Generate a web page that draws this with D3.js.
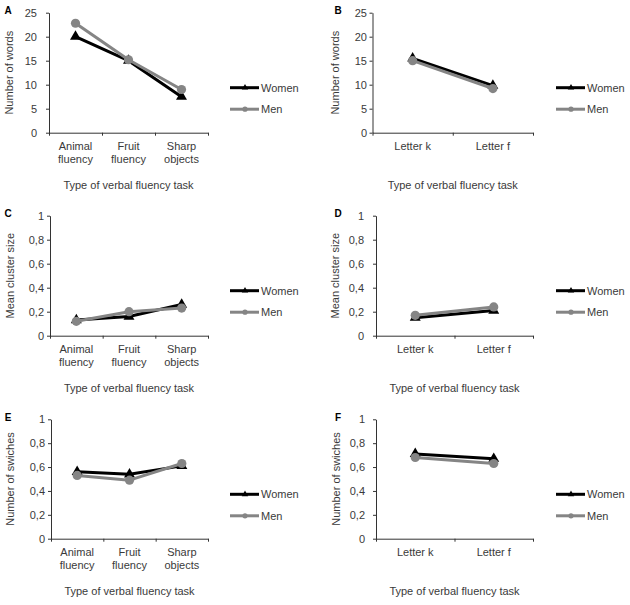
<!DOCTYPE html>
<html>
<head>
<meta charset="utf-8">
<script src="https://cdn.jsdelivr.net/npm/d3@7"></script>
<style>
  body { margin: 0; background: #fff; }
  svg { display: block; font-family: "Liberation Sans", Arial, sans-serif; }
</style>
</head>
<body>
<svg id="chart" width="630" height="605"></svg>
<script>
// categories
const semanticTasks = [["Animal", "fluency"], ["Fruit", "fluency"], ["Sharp", "objects"]];
const phonemicTasks = [["Letter k"], ["Letter f"]];
const seriesNames = ["Women", "Men"];

// A / B: number of words
const wordsSemWomen = [20, 15, 7.5];
const wordsSemMen = [22.8, 15.2, 9];
const wordsPhonWomen = [15.5, 9.8];
const wordsPhonMen = [15, 9.2];

// C / D: mean cluster size
const clusterSemWomen = [0.13, 0.16, 0.26];
const clusterSemMen = [0.12, 0.2, 0.23];
const clusterPhonWomen = [0.15, 0.21];
const clusterPhonMen = [0.17, 0.24];

// E / F: number of switches
const switchSemWomen = [0.56, 0.54, 0.61];
const switchSemMen = [0.53, 0.49, 0.63];
const switchPhonWomen = [0.71, 0.67];
const switchPhonMen = [0.68, 0.63];

// tick labels
const wordsTicks = [0, 5, 10, 15, 20, 25];
const ratioTicks = [0, 0.2, 0.4, 0.6, 0.8, 1];

const xTitle = "Type of verbal fluency task";
const textColor = "#3a3a3a";
const colors = { Women: "#000000", Men: "#858585" };

const svg = d3.select("#chart");

const panels = [
  { id: "A", cats: semanticTasks, women: wordsSemWomen, men: wordsSemMen, ticks: wordsTicks, max: 25,
    yTitle: "Number of words", left: 49, right: 208, top: 12.7, bottom: 132.7, pad: 9, titleX: 9, legX: 230, labX: 8 },
  { id: "B", cats: phonemicTasks, women: wordsPhonWomen, men: wordsPhonMen, ticks: wordsTicks, max: 25,
    yTitle: "Number of words", left: 372.5, right: 533, top: 12.7, bottom: 132.7, pad: 2.5, titleX: 335, legX: 556, labX: 338 },
  { id: "C", cats: semanticTasks, women: clusterSemWomen, men: clusterSemMen, ticks: ratioTicks, max: 1,
    yTitle: "Mean cluster size", left: 50, right: 208, top: 215.7, bottom: 335.7, pad: 3, titleX: 9.5, legX: 230, labX: 8 },
  { id: "D", cats: phonemicTasks, women: clusterPhonWomen, men: clusterPhonMen, ticks: ratioTicks, max: 1,
    yTitle: "Mean cluster size", left: 376, right: 533, top: 215.7, bottom: 335.7, pad: 9, titleX: 335, legX: 556, labX: 338 },
  { id: "E", cats: semanticTasks, women: switchSemWomen, men: switchSemMen, ticks: ratioTicks, max: 1,
    yTitle: "Number of swiches", left: 51, right: 208, top: 419.3, bottom: 538.7, pad: 3, titleX: 9.5, legX: 230, labX: 8 },
  { id: "F", cats: phonemicTasks, women: switchPhonWomen, men: switchPhonMen, ticks: ratioTicks, max: 1,
    yTitle: "Number of swiches", left: 376, right: 533, top: 419.3, bottom: 538.7, pad: 8, titleX: 336, legX: 556, labX: 338 },
];

const fmt = d => String(d).replace(".", ",");
const triangle = d3.symbol().type(d3.symbolTriangle);

function drawPanel(p) {
  const g = svg.append("g");
  const n = p.cats.length;

  const x = d3.scaleBand().domain(d3.range(n)).range([p.left, p.right]);
  const xEdge = d3.scaleLinear().domain([0, n]).range([p.left, p.right]);
  const y = d3.scaleLinear().domain([0, p.max]).range([p.bottom, p.top]);

  // y axis
  const yAxis = d3.axisLeft(y).tickValues(p.ticks).tickFormat(fmt)
    .tickSize(3).tickSizeOuter(0).tickPadding(p.pad);
  const ya = g.append("g").attr("transform", `translate(${p.left},0)`).call(yAxis);
  ya.select(".domain").attr("stroke", "#333");
  ya.selectAll(".tick line").attr("stroke", "#333");
  ya.selectAll(".tick text").attr("font-size", 11).attr("fill", textColor)
    .attr("font-family", "Liberation Sans, Arial, sans-serif");

  // x axis, ticks on category boundaries
  const xAxis = d3.axisBottom(xEdge).tickValues(d3.range(n + 1)).tickFormat("")
    .tickSize(3).tickSizeOuter(0);
  const xa = g.append("g").attr("transform", `translate(0,${p.bottom})`).call(xAxis);
  xa.select(".domain").attr("stroke", "#333");
  xa.selectAll(".tick line").attr("stroke", "#333");

  // category labels
  p.cats.forEach((lines, i) => {
    const t = g.append("text")
      .attr("x", x(i) + x.bandwidth() / 2)
      .attr("y", p.bottom + 17.5)
      .attr("text-anchor", "middle")
      .attr("font-size", 11)
      .attr("fill", textColor);
    lines.forEach((s, j) => {
      t.append("tspan").attr("x", x(i) + x.bandwidth() / 2).attr("dy", j === 0 ? 0 : 12.8).text(s);
    });
  });

  // axis titles
  g.append("text")
    .attr("x", (p.left + p.right) / 2)
    .attr("y", p.bottom + 56)
    .attr("text-anchor", "middle")
    .attr("font-size", 11)
    .attr("fill", textColor)
    .text(xTitle);

  g.append("text")
    .attr("transform", `translate(${p.titleX + 4},${(p.top + p.bottom) / 2}) rotate(-90)`)
    .attr("text-anchor", "middle")
    .attr("font-size", 11)
    .attr("fill", textColor)
    .text(p.yTitle);

  // panel letter
  g.append("text")
    .attr("x", p.labX)
    .attr("y", p.top + 1.5)
    .attr("text-anchor", "middle")
    .attr("font-size", 10)
    .attr("font-weight", "bold")
    .attr("fill", "#000")
    .text(p.id);

  // series
  const line = d3.line().x((d, i) => x(i) + x.bandwidth() / 2).y(d => y(d));
  const series = [{ name: "Women", values: p.women }, { name: "Men", values: p.men }];

  series.forEach(s => {
    g.append("path")
      .attr("d", line(s.values))
      .attr("fill", "none")
      .attr("stroke", colors[s.name])
      .attr("stroke-width", 3)
      .attr("stroke-linejoin", "round");

    const pts = g.selectAll(null).data(s.values).join("g")
      .attr("transform", (d, i) => `translate(${x(i) + x.bandwidth() / 2},${y(d)})`);
    if (s.name === "Women") {
      pts.append("path").attr("d", triangle.size(52)()).attr("fill", colors.Women);
    } else {
      pts.append("circle").attr("r", 4.6).attr("fill", colors.Men);
    }
  });

  // legend
  seriesNames.forEach((name, i) => {
    const ly = p.top + 75 + i * 21.5;
    const lg = g.append("g");
    lg.append("line")
      .attr("x1", p.legX).attr("x2", p.legX + 29)
      .attr("y1", ly).attr("y2", ly)
      .attr("stroke", colors[name]).attr("stroke-width", 3);
    if (name === "Women") {
      lg.append("path").attr("d", triangle.size(18)())
        .attr("transform", `translate(${p.legX + 15},${ly})`).attr("fill", colors.Women);
    } else {
      lg.append("circle").attr("cx", p.legX + 15).attr("cy", ly).attr("r", 2.6).attr("fill", colors.Men);
    }
    lg.append("text")
      .attr("x", p.legX + 31)
      .attr("y", ly + 4)
      .attr("font-size", 11)
      .attr("fill", textColor)
      .text(name);
  });
}

panels.forEach(drawPanel);
</script>
</body>
</html>
